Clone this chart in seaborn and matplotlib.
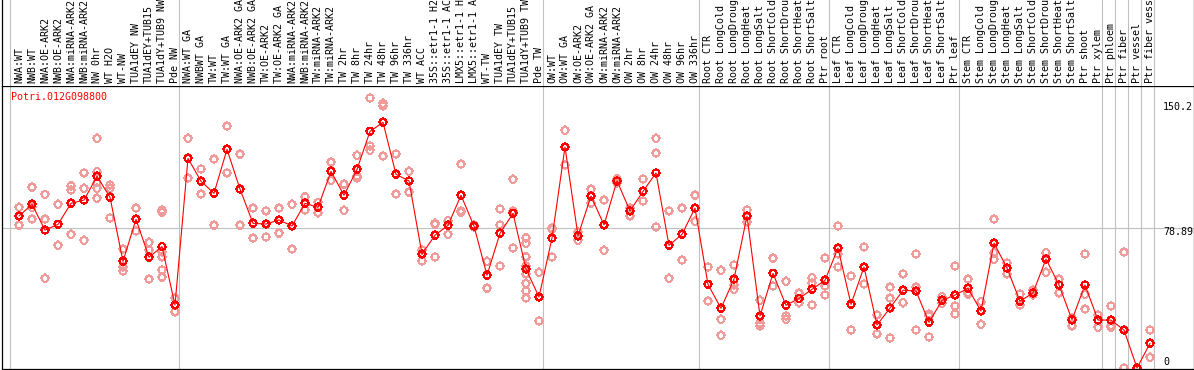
import numpy as np
import pandas as pd
import matplotlib
matplotlib.use("Agg")
import matplotlib.pyplot as plt
import matplotlib.transforms as mtransforms
from matplotlib.path import Path
import seaborn as sns

# ---------------- data ----------------
gene_id = "Potri.012G098800"

labels_nw = ["NWA:WT", "NWB:WT", "NWA:OE-ARK2", "NWB:OE-ARK2", "NWA:miRNA-ARK2",
             "NWB:miRNA-ARK2", "NW 0hr", "WT H2O", "WT-NW", "TUA1dEY NW",
             "TUA1dEY+TUB15", "TUA1dY+TUB9 NW", "Pde NW"]
labels_tw = ["NWA:WT GA", "NWBWT GA", "TW:WT", "TW:WT GA", "NWA:OE-ARK2 GA",
             "NWB:OE-ARK2 GA", "TW:OE-ARK2", "TW:OE-ARK2 GA", "NWA:miRNA-ARK2",
             "NWB:miRNA-ARK2", "TW:miRNA-ARK2", "TW:miRNA-ARK2", "TW 2hr", "TW 8hr",
             "TW 24hr", "TW 48hr", "TW 96hr", "TW 336hr", "WT ACC", "35S::etr1-1 H2",
             "35S::etr1-1 AC", "LMX5::etr1-1 H", "LMX5::etr1-1 A", "WT-TW",
             "TUA1dEY TW", "TUA1dEY+TUB15", "TUA1dY+TUB9 TW", "Pde TW"]
labels_ow = ["OW:WT", "OW:WT GA", "OW:OE-ARK2", "OW:OE-ARK2 GA", "OW:miRNA-ARK2",
             "OW:miRNA-ARK2", "OW 2hr", "OW 8hr", "OW 24hr", "OW 48hr", "OW 96hr",
             "OW 336hr"]
labels_root = ["Root CTR", "Root LongCold", "Root LongDroug", "Root LongHeat",
               "Root LongSalt", "Root ShortCold", "Root ShortDrou", "Root ShortHeat",
               "Root ShortSalt", "Ptr root"]
labels_leaf = ["Leaf CTR", "Leaf LongCold", "Leaf LongDroug", "Leaf LongHeat",
               "Leaf LongSalt", "Leaf ShortCold", "Leaf ShortDrou", "Leaf ShortHeat",
               "Leaf ShortSalt", "Ptr leaf"]
labels_stem = ["Stem CTR", "Stem LongCold", "Stem LongDroug", "Stem LongHeat",
               "Stem LongSalt", "Stem ShortCold", "Stem ShortDrou", "Stem ShortHeat",
               "Stem ShortSalt", "Ptr shoot", "Ptr xylem"]
labels_phloem = ["Ptr phloem"]
labels_fiber = ["Ptr fiber"]
labels_vessel = ["Ptr vessel"]
labels_fibves = ["Ptr fiber vess"]

groups = [labels_nw, labels_tw, labels_ow, labels_root, labels_leaf, labels_stem,
          labels_phloem, labels_fiber, labels_vessel, labels_fibves]

means_nw = [85.6, 92.2, 77.7, 80.9, 92.8, 94.6, 108.0, 96.2, 60.1, 83.8, 62.4, 68.4, 35.5]
means_tw = [118.1, 105.2, 98.4, 123.2, 100.8, 81.5, 81.1, 83.4, 80.0, 92.8, 90.5, 110.8,
            97.3, 111.9, 133.3, 138.4, 109.1, 105.4, 64.2, 74.8, 80.4, 97.3, 80.0, 52.2,
            75.9, 87.1, 55.8, 40.0]
means_ow = [73.2, 124.5, 74.5, 96.9, 80.6, 105.4, 88.5, 99.5, 109.9, 69.1, 75.3, 90.1]
means_root = [47.1, 33.6, 50.1, 85.6, 29.3, 53.3, 35.3, 39.2, 44.3, 49.4]
means_leaf = [67.6, 35.9, 56.9, 24.2, 33.8, 43.8, 43.4, 25.7, 38.1, 41.1]
means_stem = [44.9, 32.1, 70.4, 56.3, 37.6, 42.3, 61.4, 46.8, 27.2, 46.8, 27.0]
means_tissue = [27.0, 21.4, 0.0, 13.9]

reps_nw = [[90.5, 80.4], [101.8, 90.5, 83.8], [97.8, 83.8, 50.5], [92.2, 69.1],
           [102.7, 100.3, 75.3], [109.9, 101.2, 71.9], [129.4, 110.6, 104.5, 101.2, 95.6],
           [103.1, 101.2, 84.5], [66.9, 57.1, 54.6], [90.0, 77.2], [70.8, 66.5, 50.0],
           [89.0, 87.7, 65.5, 62.7, 55.2, 51.1], [39.3, 31.7]]
reps_tw = [[129.4, 106.9], [112.1, 97.9], [117.7, 80.4], [136.2, 109.9], [120.4, 80.4],
           [90.0, 73.1], [88.5, 73.8], [90.0, 75.9], [92.2, 66.9], [96.5, 89.0],
           [93.3, 87.5], [115.9, 105.7], [103.5, 88.8], [119.8, 108.2, 107.2],
           [152.1, 125.1, 122.6], [149.1, 147.6, 119.3], [120.6, 97.9], [110.8, 99.0],
           [66.5, 60.3], [81.5, 80.9, 62.5], [83.0, 75.3], [114.8, 88.5, 87.7],
           [80.6, 79.4], [60.1, 44.9], [89.6, 80.6, 57.5], [106.3, 88.6, 67.6],
           [73.4, 70.2, 62.7, 57.5, 53.0, 47.7, 43.4, 39.3], [53.9, 26.5]]
reps_ow = [[78.9, 78.1, 62.5], [133.9, 114.4], [76.6, 71.9], [100.8, 92.8], [94.5, 66.3],
           [106.7, 104.2], [90.0, 85.8], [106.5, 94.1], [129.4, 121.0, 79.4], [88.5, 50.5],
           [90.0, 60.7], [97.3, 82.6]]
reps_root = [[56.9, 37.7], [55.0, 27.4, 18.4], [58.0, 46.8, 44.3], [89.0, 82.4],
             [38.1, 25.2, 23.7], [61.8, 46.2], [48.8, 29.3, 27.4], [42.1, 36.8],
             [50.9, 47.7, 35.5], [62.0, 46.2, 41.1]]
reps_leaf = [[80.0, 64.2, 56.9], [51.8, 21.4], [68.2, 47.3], [29.9, 19.2],
             [45.5, 39.3, 16.9], [53.0, 36.8], [64.2, 45.5, 21.4], [30.4, 29.3, 17.5],
             [40.2, 36.4], [57.5, 34.9, 30.4]]
reps_stem = [[50.0, 42.6, 41.5], [37.4, 24.6], [83.8, 65.0, 61.2], [59.3, 53.0],
             [41.7, 35.5], [43.9, 41.3], [65.0, 53.9], [50.0, 42.4], [28.0, 23.8],
             [64.2, 41.5, 33.1], [29.9, 22.9]]
reps_tissue = [[34.9, 23.7, 22.9], [65.2, 0.0, 0.0], [0.0, 0.0], [21.4, 6.0]]

ytick_values = [150.2, 78.89, 0]
ytick_labels = ["150.2", "78.89", "0"]
grid_value = 78.89

# ---------------- assemble ----------------
labels = [l for g in groups for l in g]
means = means_nw + means_tw + means_ow + means_root + means_leaf + means_stem + means_tissue
reps = reps_nw + reps_tw + reps_ow + reps_root + reps_leaf + reps_stem + reps_tissue
n = len(labels)
df_mean = pd.DataFrame({"pos": np.arange(n), "value": means})
df_rep = pd.DataFrame([(i, v) for i, rs in enumerate(reps) for v in rs],
                      columns=["pos", "value"])
starts = np.cumsum([0] + [len(g) for g in groups])

# ---------------- style ----------------
sns.set_style("white")
plt.rcParams["font.family"] = ["DejaVu Sans Mono"]
FS = 7.2

# polygonal circle marker with four small ticks
ang = np.linspace(0, 2 * np.pi, 33)
t = 1.3
verts = [(np.cos(a), np.sin(a)) for a in ang]
codes = [Path.MOVETO] + [Path.LINETO] * 32
verts += [(0, 1), (0, t), (0, -1), (0, -t), (1, 0), (t, 0), (-1, 0), (-t, 0)]
codes += [Path.MOVETO, Path.LINETO] * 4
mk = Path(verts, codes)
MS = 40

W, H = 1194, 370
fig = plt.figure(figsize=(W / 100, H / 100), dpi=100)
ax = fig.add_axes([1.5 / W, (H - 369) / H, 1192 / W, (369 - 85.5) / H])
hx = fig.add_axes([1.5 / W, (H - 85.5) / H, 1192 / W, 85.5 / H], sharex=ax)

grid_c = "#c0c0c0"
for b in starts:
    ax.axvline(b - 9 / 13, color=grid_c, lw=0.8, zorder=1)
    hx.axvline(b - 9 / 13, color=grid_c, lw=0.8, zorder=1)
ax.axhline(grid_value, color=grid_c, lw=0.8, zorder=1)

sns.scatterplot(data=df_rep, x="pos", y="value", ax=ax, marker=mk, s=MS,
                legend=False, zorder=2)
c1 = ax.collections[-1]
c1.set_facecolor("none")
c1.set_edgecolor("#f09a9a")
c1.set_linewidth(0.72)
c1.set_antialiased(False)

sns.lineplot(data=df_mean, x="pos", y="value", ax=ax, color="#ff0000",
             linewidth=0.8, errorbar=None, zorder=3)
sns.scatterplot(data=df_mean, x="pos", y="value", ax=ax, marker=mk, s=MS,
                legend=False, zorder=4)
c2 = ax.collections[-1]
c2.set_facecolor("none")
c2.set_edgecolor("#ff0000")
c2.set_linewidth(0.85)
c2.set_antialiased(False)

ax.set_xlim((1.5 - 19) / 13, (1193.5 - 19) / 13)
ax.set_ylim((368 - 369) / 1.775, (368 - 85.5) / 1.775)
for a in (ax, hx):
    a.set_xticks([])
    a.set_yticks([])
    a.set_xlabel("")
    a.set_ylabel("")
    a.set_facecolor("white")
hx.set_ylim(0, 1)

for s in ax.spines.values():
    s.set_color("black")
    s.set_linewidth(0.9)
for k, s in hx.spines.items():
    s.set_color("black")
    s.set_linewidth(0.9)
    if k in ("top", "bottom"):
        s.set_visible(False)

# header labels
htr = mtransforms.blended_transform_factory(hx.transData, hx.transAxes)
for i, lab in enumerate(labels):
    hx.text(i, 2.5 / 85.5, lab, rotation=90, ha="center", va="bottom",
            fontsize=FS, color="black", transform=htr, clip_on=False)

# gene id
ax.text(10 / 1192, (369 - 97) / (369 - 85.5), gene_id, transform=ax.transAxes,
        color="#ff0000", fontsize=FS, ha="left", va="center")

# value labels on right
offsets = [-5.3, -4.3, 6.3]
xlab = (1163 - 19) / 13
for v, lab, off in zip(ytick_values, ytick_labels, offsets):
    tr = mtransforms.offset_copy(ax.transData, fig=fig, x=0, y=off, units="dots")
    ax.text(xlab, v, lab, transform=tr, ha="left", va="center", fontsize=FS,
            color="black")

fig.savefig("out.png", dpi=100)
